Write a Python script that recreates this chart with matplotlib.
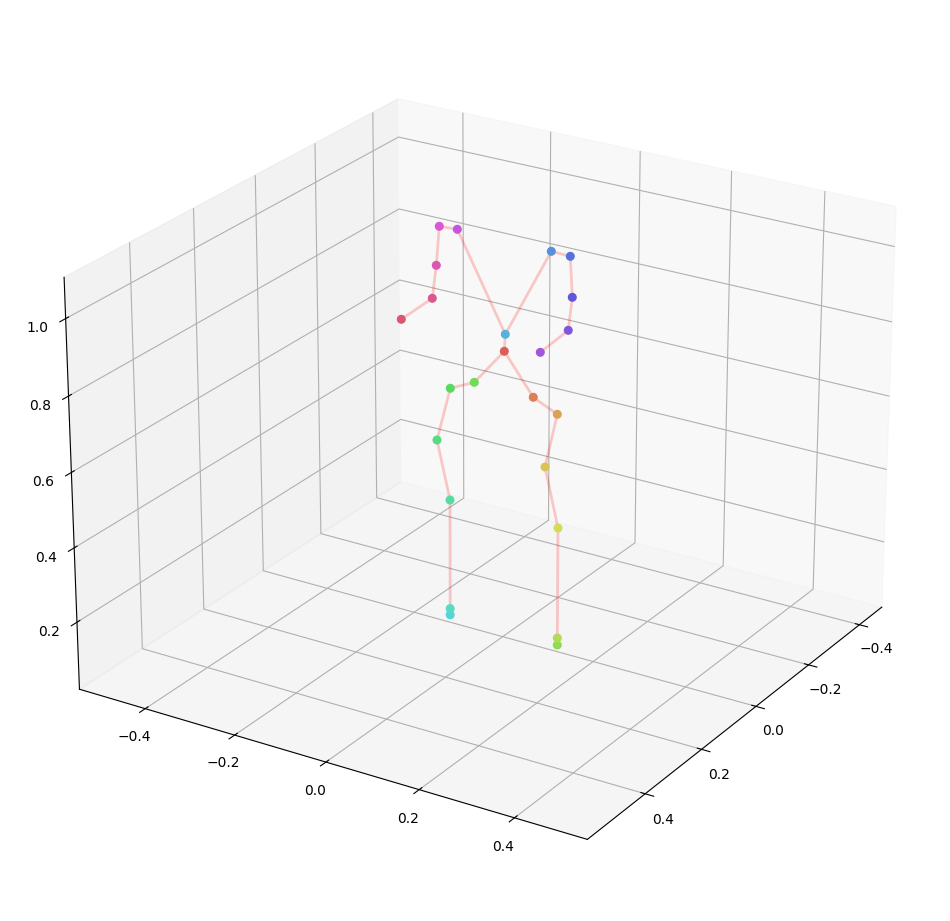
import matplotlib
matplotlib.use('Agg')
import matplotlib.pyplot as plt
import seaborn as sns

# joint coordinates
xs = [0.0330, 0.0350, 0.0368, 0.0355, 0.0361, 0.0354, 0.0353, 0.0311,
      0.0297, 0.0293, 0.0301, 0.0305, 0.0305, 0.0331, 0.0372, 0.0390,
      0.0389, 0.0383, 0.0357, 0.0297, 0.0285, 0.0285, 0.0284, 0.0270]
ys = [0.0233, 0.0875, 0.1405, 0.1139, 0.1431, 0.1427, 0.1427, -0.0432,
      -0.0969, -0.1271, -0.0981, -0.0983, -0.0983, 0.0255, 0.1259, 0.1672,
      0.1720, 0.1636, 0.1026, -0.0805, -0.1205, -0.1274, -0.1366, -0.2064]
zs = [0.8154, 0.7141, 0.6861, 0.5371, 0.3828, 0.0825, 0.0632, 0.7125,
      0.6798, 0.5313, 0.3779, 0.0789, 0.0617, 0.8608, 1.1070, 1.1065,
      1.0022, 0.9140, 0.8374, 1.1034, 1.0997, 0.9959, 0.9065, 0.8301]

# skeleton
bones = [(0, 1), (1, 2), (2, 3), (3, 4), (4, 5), (5, 6),
         (0, 7), (7, 8), (8, 9), (9, 10), (10, 11), (11, 12),
         (0, 13), (13, 14), (14, 15), (15, 16), (16, 17), (17, 18),
         (13, 19), (19, 20), (20, 21), (21, 22), (22, 23)]

fig = plt.figure(figsize=(9.5, 9.21), dpi=100)
ax = fig.add_axes([0.0, 0.0, 1.0, 1.0], projection='3d')
ax.computed_zorder = False
ax.view_init(elev=24, azim=32)
ax.set_xlim(-0.49, 0.598)
ax.set_ylim(-0.55, 0.55)
ax.set_zlim(0.0175, 1.1055)

colors = sns.color_palette('hls', len(xs))
for i, j in bones:
    ax.plot([xs[i], xs[j]], [ys[i], ys[j]], [zs[i], zs[j]],
            color='r', alpha=0.2, lw=2, zorder=3)
ax.scatter(xs, ys, zs, c=colors, s=30, depthshade=False, zorder=4)

plt.savefig('out.png')
